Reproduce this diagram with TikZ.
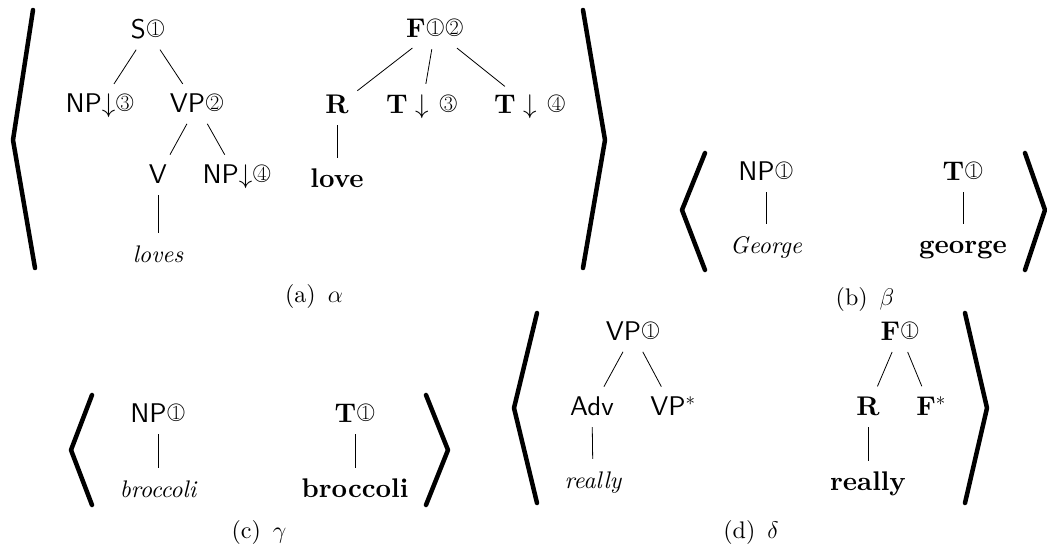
\RequirePackage{fix-cm}
\documentclass[tikz,border=0pt]{standalone}
\usepackage{fontspec}
\setmainfont{lmroman10}[Extension=.otf, UprightFont=*-regular, BoldFont=*-bold,
  ItalicFont=*-italic, BoldItalicFont=*-bolditalic]
\setsansfont{lmsans10}[Extension=.otf, UprightFont=*-regular, BoldFont=*-bold,
  ItalicFont=*-oblique, BoldItalicFont=*-boldoblique]
\newfontfamily\cdigit{lmroman17-regular}[Extension=.otf]
\newcommand\cnum[1]{{\mdseries\ooalign{\hfil\raisebox{2.8pt}{\fontsize{20}{20}\cdigit #1}\hfil\crcr
  \raisebox{4.5pt}{\fontsize{19}{19}\selectfont$\bigcirc$}}}}
\usepackage{tikz}

\tikzset{
  every node/.style={anchor=base, inner sep=3pt, text height=19pt, text depth=6pt},
  syn/.style={font=\fontsize{27}{32}\selectfont\sffamily},
  sem/.style={font=\fontsize{27}{32}\selectfont\bfseries},
  word/.style={font=\fontsize{24}{28}\selectfont\itshape},
  subcap/.style={font=\fontsize{24}{28}\selectfont},
  edge/.style={line width=0.8pt, shorten <=3pt, shorten >=7pt},
  brack/.style={line width=4.5pt, line cap=round, line join=round},
}

\begin{document}
\begin{tikzpicture}[x=1pt, y=-1pt]
\useasboundingbox (0,0) rectangle (1047,546);
% (a)
\node [syn] (s) at (148,38) {S\cnum{1}};
\node [syn] (np3) at (100,112) {NP$\downarrow$\cnum{3}};
\node [syn] (vp2) at (197,112) {VP\cnum{2}};
\node [syn] (v) at (158,183) {V};
\node [syn] (np4) at (237,183) {NP$\downarrow$\cnum{4}};
\node [word] (loves) at (158,262) {loves};
\node [sem] (f12) at (435,37) {F\cnum{1}\cnum{2}};
\node [sem] (r) at (337,113) {R};
\node [sem] (t3) at (422,113) {$\mathbf{T}\downarrow$ \cnum{3}};
\node [sem] (t4) at (530,113) {$\mathbf{T}\downarrow$ \cnum{4}};
\node [sem] (love) at (337,187) {love};
\draw [edge] (s) -- (np3);
\draw [edge] (s) -- (vp2);
\draw [edge] (vp2) -- (v);
\draw [edge] (vp2) -- (np4);
\draw [edge] (v) -- (loves);
\draw [edge] (f12) -- (r);
\draw [edge] (f12) -- (t3);
\draw [edge] (f12) -- (t4);
\draw [edge] (r) -- (love);
\draw [brack] (33,10) -- (13,140) -- (35,268);
\draw [brack] (583,10) -- (605,140) -- (583,268);
\node [subcap] (capa) at (314,302) {(a)\enspace$\alpha$};
% (b)
\node [syn] (np1b) at (766,180) {NP\cnum{1}};
\node [word] (george) at (766,253) {George};
\node [sem] (t1b) at (963,180) {T\cnum{1}};
\node [sem] (georgeb) at (963,253) {george};
\draw [edge] (np1b) -- (george);
\draw [edge] (t1b) -- (georgeb);
\draw [brack] (705,153) -- (682,210) -- (705,270);
\draw [brack] (1025,153) -- (1045,210) -- (1025,270);
\node [subcap] (capb) at (865,305) {(b)\enspace$\beta$};
% (c)
\node [syn] (np1c) at (158,422) {NP\cnum{1}};
\node [word] (broc) at (158,497) {broccoli};
\node [sem] (t1c) at (355,422) {T\cnum{1}};
\node [sem] (brocb) at (355,497) {broccoli};
\draw [edge] (np1c) -- (broc);
\draw [edge] (t1c) -- (brocb);
\draw [brack] (92,395) -- (71,450) -- (92,505);
\draw [brack] (426,395) -- (448,450) -- (426,505);
\node [subcap] (capc) at (259,538) {(c)\enspace$\gamma$};
% (d)
\node [syn] (vp1) at (633,340) {VP\cnum{1}};
\node [syn] (adv) at (592,415) {Adv};
\node [syn] (vps) at (673,415) {VP$^*$};
\node [word] (really) at (593,488) {really};
\node [sem] (f1) at (900,340) {F\cnum{1}};
\node [sem] (rd) at (868,415) {R};
\node [sem] (fs) at (931,415) {$\mathbf{F}^*$};
\node [sem] (reallyb) at (868,490) {really};
\draw [edge] (vp1) -- (adv);
\draw [edge] (vp1) -- (vps);
\draw [edge] (adv) -- (really);
\draw [edge] (f1) -- (rd);
\draw [edge] (f1) -- (fs);
\draw [edge] (rd) -- (reallyb);
\draw [brack] (537,313) -- (514,408) -- (537,503);
\draw [brack] (965,313) -- (987,408) -- (965,503);
\node [subcap] (capd) at (751,538) {(d)\enspace$\delta$};
\end{tikzpicture}
\end{document}
